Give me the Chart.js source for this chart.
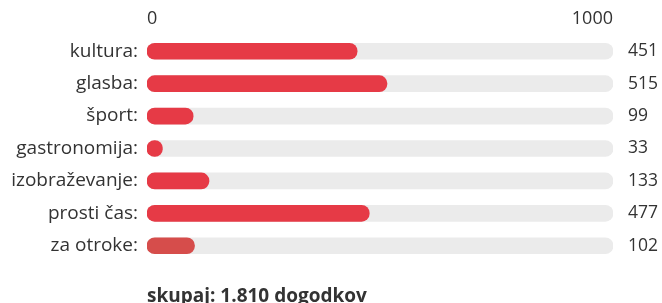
<!DOCTYPE html>
<html>
<head>
<meta charset="utf-8">
<script src="https://cdn.jsdelivr.net/npm/chart.js@4.4.1/dist/chart.umd.min.js"></script>
<style>
  html, body { margin: 0; padding: 0; background: #fff; }
  #wrap { position: relative; width: 662px; height: 303px; }
</style>
</head>
<body>
<div id="wrap"><canvas id="chart"></canvas></div>
<script>
// podatki
const categories = ['kultura', 'glasba', 'šport', 'gastronomija', 'izobraževanje', 'prosti čas', 'za otroke'];
const counts = [451, 515, 99, 33, 133, 477, 102];
const barColors = ['#e63a46', '#e63a46', '#e63a46', '#e63a46', '#e63a46', '#e63a46', '#d64d4b'];
const axisMax = 1000;
const axisTicks = [0, 1000];

const FONT = '"Open Sans", sans-serif';
const total = counts.reduce((a, b) => a + b, 0);
const totalText = 'skupaj: ' + total.toLocaleString('de-DE') + ' dogodkov';

// vrednosti desno od sivih trakov
const valueLabels = {
    id: 'valueLabels',
    afterDatasetsDraw(chart) {
        const ctx = chart.ctx;
        const meta = chart.getDatasetMeta(0);
        ctx.save();
        ctx.font = '17.5px ' + FONT;
        ctx.fillStyle = '#333';
        ctx.textAlign = 'left';
        ctx.textBaseline = 'middle';
        meta.data.forEach((bar, i) => {
            ctx.fillText(String(counts[i]), chart.chartArea.right + 15, bar.y);
        });
        // skupaj spodaj
        ctx.font = 'bold 19px ' + FONT;
        ctx.textBaseline = 'alphabetic';
        ctx.fillText(totalText, chart.chartArea.left, 302);
        ctx.restore();
    }
};

new Chart(document.getElementById('chart'), {
    type: 'bar',
    data: {
        labels: categories.map(c => c + ':'),
        datasets: [
            {
                data: counts,
                backgroundColor: barColors,
                borderRadius: 8,
                borderSkipped: false,
                barThickness: 16,
                grouped: false,
                order: 0
            },
            {
                data: categories.map(() => axisMax),
                backgroundColor: '#ebebeb',
                borderRadius: 8,
                borderSkipped: false,
                barThickness: 16,
                grouped: false,
                order: 1
            }
        ]
    },
    options: {
        indexAxis: 'y',
        responsive: true,
        maintainAspectRatio: false,
        animation: false,
        layout: { padding: { top: 0, right: 49, bottom: 41, left: 0 } },
        plugins: { legend: { display: false }, tooltip: { enabled: false } },
        scales: {
            x: {
                position: 'top',
                min: 0,
                max: axisMax,
                afterBuildTicks: (s) => { s.ticks = axisTicks.map(v => ({ value: v })); },
                afterFit: (s) => { s.height = 35; },
                grid: { display: false, drawTicks: false },
                border: { display: false },
                ticks: {
                    align: 'inner', padding: 5, color: '#333',
                    font: { family: FONT, size: 18 },
                    callback: (v) => String(v)
                }
            },
            y: {
                afterFit: (s) => { s.width = 147; },
                grid: { display: false, drawTicks: false },
                border: { display: false },
                ticks: { padding: 9, color: '#333', font: { family: FONT, size: 19 } }
            }
        }
    },
    plugins: [valueLabels]
});
</script>
</body>
</html>
